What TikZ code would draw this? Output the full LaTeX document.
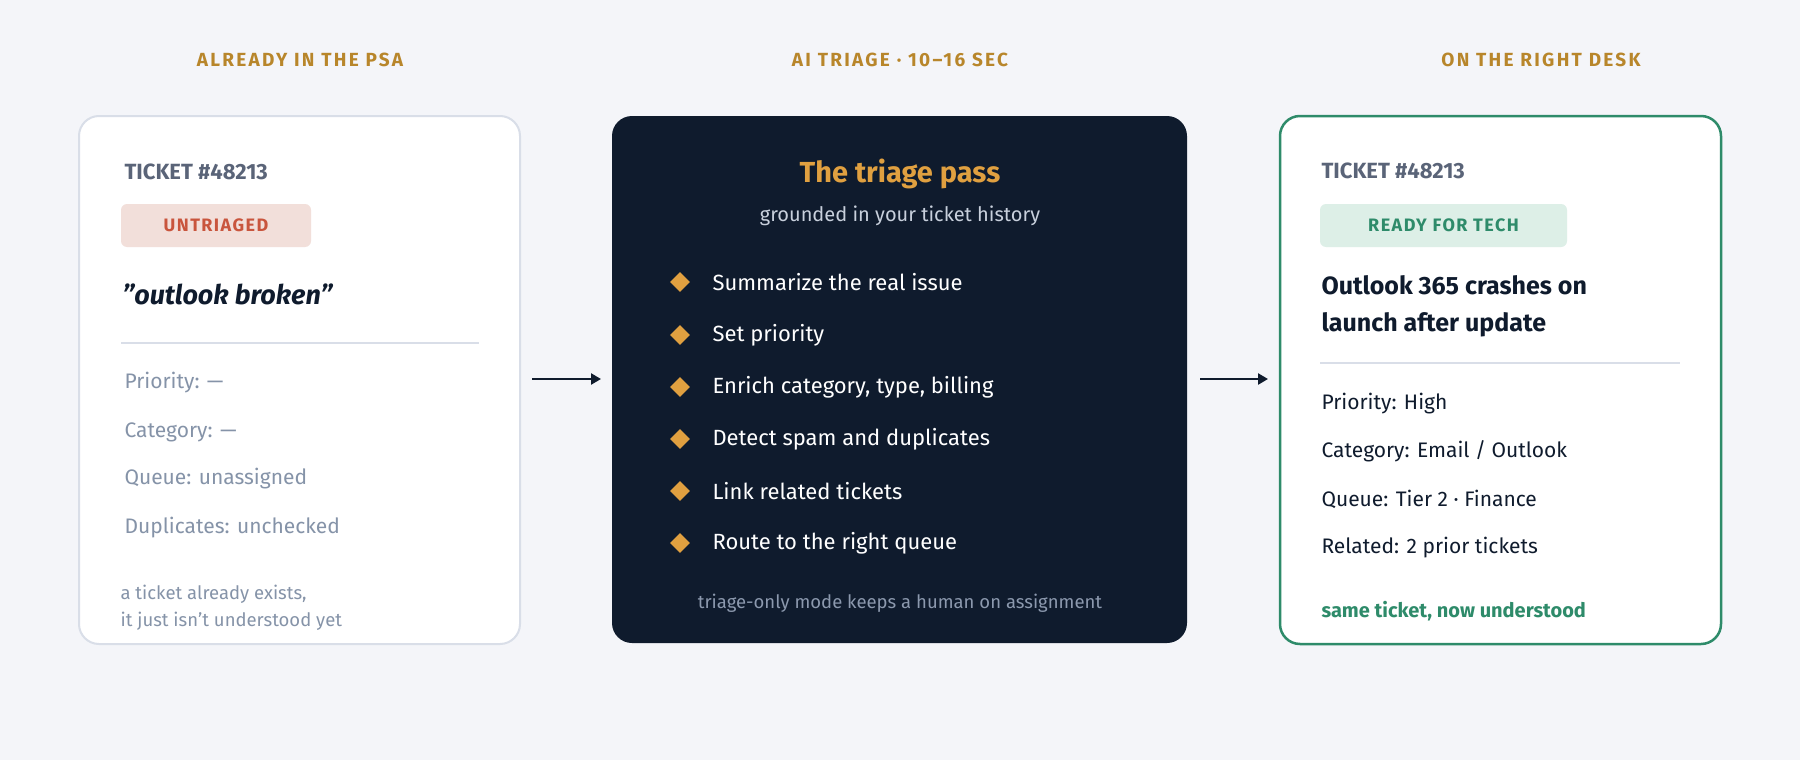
\documentclass[tikz,border=0pt]{standalone}
\usepackage{fontspec}
\setmainfont{Fira Sans}
\usetikzlibrary{arrows.meta}
\definecolor{bg}{HTML}{F4F5F9}
\definecolor{gold}{HTML}{B8862B}
\definecolor{dark}{HTML}{0F1B2D}
\definecolor{ltitle}{HTML}{E0A040}
\definecolor{greyt}{HTML}{8593A8}
\definecolor{slate}{HTML}{5A6478}
\definecolor{redb}{HTML}{F2DFDA}
\definecolor{redt}{HTML}{C9553D}
\definecolor{grn}{HTML}{2E8B6A}
\definecolor{grnb}{HTML}{DDEFE7}
\definecolor{bord}{HTML}{D9DEE8}
\definecolor{ink}{HTML}{1A2233}
\definecolor{sub}{HTML}{C8D0DC}
\definecolor{foot}{HTML}{8C99AE}
\begin{document}
\begin{tikzpicture}[x=1pt,y=-1pt,
 hdr/.style={text=gold,font=\fontsize{19}{22}\selectfont\bfseries\addfontfeature{LetterSpace=12}},
 tk/.style={anchor=west,text=slate,font=\fontsize{22}{26}\selectfont\bfseries},
 fld/.style={anchor=west,text=greyt,font=\fontsize{21}{25}\selectfont},
 fldr/.style={anchor=west,text=dark,font=\fontsize{21}{25}\selectfont},
 bul/.style={anchor=west,text=white,font=\fontsize{22}{26}\selectfont},
 dia/.style={fill=ltitle,minimum size=0pt,inner sep=0pt},
 arr/.style={-{Triangle[length=10pt,width=11pt]},line width=2.5pt,draw=dark}]
\fill[bg] (0,0) rectangle (1800,760);
\node[hdr] (h1) at (300,60) {ALREADY IN THE PSA};
\node[hdr] (h2) at (900,60) {AI TRIAGE · 10–16 SEC};
\node[hdr] (h3) at (1541,60) {ON THE RIGHT DESK};
% left card
\node[draw=bord,line width=2pt,fill=white,rounded corners=20pt,minimum width=441pt,minimum height=528pt] (c1) at (299.5,380) {};
\node[tk] (t1) at (121,172) {TICKET \#48213};
\node[fill=redb,rounded corners=6pt,minimum width=190pt,minimum height=43pt,text=redt,font=\fontsize{18}{22}\selectfont\bfseries\addfontfeature{LetterSpace=8}] (b1) at (216,225.5) {UNTRIAGED};
\node[anchor=west,text=dark,font=\fontsize{27}{32}\selectfont\bfseries\itshape] (q1) at (119,294) {"outlook broken"};
\draw[bord,line width=1.5pt] (121,343) -- (479,343);
\node[fld] (f1) at (121,383) {Priority: —};
\node[fld] (f2) at (121,432) {Category: —};
\node[fld] (f3) at (121,479) {Queue: unassigned};
\node[fld] (f4) at (121,528) {Duplicates: unchecked};
\node[anchor=north west,align=left,text=greyt,font=\fontsize{18.5}{27}\selectfont] (n1) at (117,582) {a ticket already exists,\\it just isn't understood yet};
% middle card
\node[fill=dark,rounded corners=20pt,minimum width=575pt,minimum height=527pt] (c2) at (899.5,379.5) {};
\node[text=ltitle,font=\fontsize{29}{34}\selectfont\bfseries] (tt) at (900,174) {The triage pass};
\node[text=sub,font=\fontsize{20}{24}\selectfont] (st) at (900,216) {grounded in your ticket history};
\foreach \y/\t [count=\i] in {282/Summarize the real issue,335/Set priority,387/{Enrich category, type, billing},439/Detect spam and duplicates,491/Link related tickets,543/Route to the right queue}{
 \node[dia,minimum width=14pt,minimum height=14pt,rotate=45] (d\i) at (680,\y) {};
 \node[bul] (b\i) at (709,\y) {\t};}
\node[text=foot,font=\fontsize{18.5}{22}\selectfont] (ft) at (900,603) {triage-only mode keeps a human on assignment};
% right card
\node[draw=grn,line width=2.5pt,fill=white,rounded corners=20pt,minimum width=441pt,minimum height=528pt] (c3) at (1500.5,380) {};
\node[tk] (t3) at (1318,171) {TICKET \#48213};
\node[fill=grnb,rounded corners=6pt,minimum width=247pt,minimum height=43pt,text=grn,font=\fontsize{18}{22}\selectfont\bfseries\addfontfeature{LetterSpace=8}] (b3) at (1443.5,225.5) {READY FOR TECH};
\node[anchor=north west,align=left,text=dark,font=\fontsize{25}{37}\selectfont\bfseries] (q3) at (1318,272) {Outlook 365 crashes on\\launch after update};
\draw[bord,line width=1.5pt] (1320,363) -- (1680,363);
\node[fldr] (g1) at (1318,404) {Priority: High};
\node[fldr] (g2) at (1318,451) {Category: Email / Outlook};
\node[fldr] (g3) at (1318,499) {Queue: Tier 2 · Finance};
\node[fldr] (g4) at (1318,548) {Related: 2 prior tickets};
\node[anchor=west,text=grn,font=\fontsize{20}{24}\selectfont\bfseries] (n3) at (1318,611) {same ticket, now understood};
% arrows
\coordinate (a1s) at (532,379); \coordinate (a1e) at (601,379);
\coordinate (a2s) at (1200,379); \coordinate (a2e) at (1268,379);
\draw[arr] (a1s) -- (a1e);
\draw[arr] (a2s) -- (a2e);
\end{tikzpicture}
\end{document}
